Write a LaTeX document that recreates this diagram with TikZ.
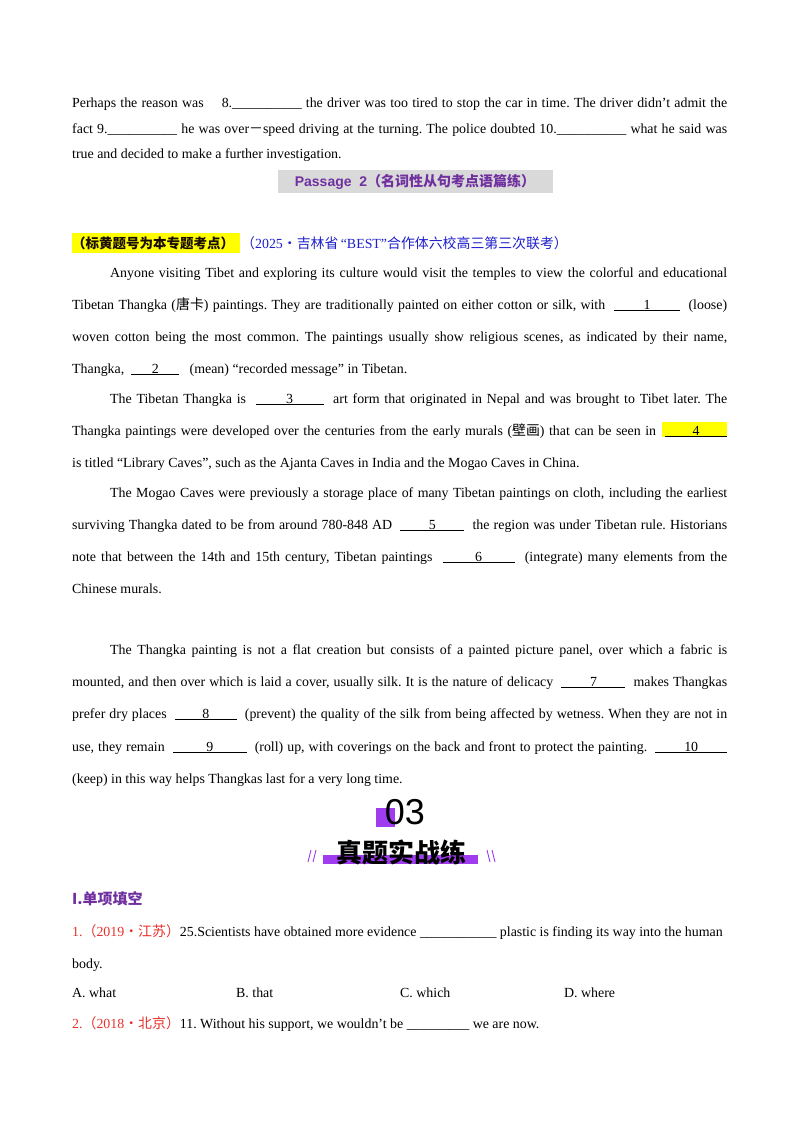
\documentclass[tikz,border=0pt]{standalone}
\usepackage{fontspec}
\setmainfont{Liberation Serif}
\newfontfamily\cjk{Noto Sans CJK SC}
\newfontfamily\hsans{Liberation Sans}
\definecolor{pur}{HTML}{7030A0}
\definecolor{pbar}{HTML}{A03CF0}
\definecolor{hl}{HTML}{FFFF00}
\definecolor{blu}{HTML}{1F1FCC}
\definecolor{redq}{HTML}{E8302A}
\newcommand\blk[2]{\underline{\makebox[#1pt]{#2}}}
\newcommand\jl[4]{\node[txt] (#1) at (#2,#3) {\makebox[\dimexpr727pt-#2pt\relax][s]{#4}};}
\newcommand\lft[4]{\node[txt] (#1) at (#2,#3) {#4};}
\tikzset{txt/.style={anchor=base west,inner sep=0pt,font=\fontsize{13.9}{15}\selectfont}}
\frenchspacing
\begin{document}
\begin{tikzpicture}[x=1pt,y=-1pt]
\useasboundingbox[fill=white] (0,0) rectangle (800,1132);
\jl{a1}{72}{107}{Perhaps the reason was \quad 8.\_\_\_\_\_\_\_\_\_\_ the driver was too tired to stop the car in time. The driver didn't admit the}
\jl{a2}{72}{133}{fact 9.\_\_\_\_\_\_\_\_\_\_ he was over{\cjk －}speed driving at the turning. The police doubted 10.\_\_\_\_\_\_\_\_\_\_ what he said was}
\lft{a3}{72}{158}{true and decided to make a further investigation.}
\fill[gray!30] (278,170) rectangle (553,193);
\node[inner sep=0,text=pur,font=\hsans\bfseries\fontsize{14}{15}\selectfont] (ph) at (415,181.5) {Passage\ \ 2{\cjk\bfseries（名词性从句考点语篇练）}};
\fill[hl] (72,233) rectangle (240,253);
\node[txt,font=\cjk\bfseries\fontsize{13.5}{15}\selectfont,text=black!75!orange!40!black] (yl) at (72,248) {（标黄题号为本专题考点）};
\node[txt,text=blu] (src) at (241,248) {{\cjk（}2025{\cjk ·吉林省}\,“BEST”{\cjk 合作体六校高三第三次联考）}};
\jl{b1}{110}{277}{Anyone visiting Tibet and exploring its culture would visit the temples to view the colorful and educational}
\jl{b2}{72}{309}{Tibetan Thangka ({\cjk 唐卡}) paintings. They are traditionally painted on either cotton or silk, with \ \blk{66}{1} \ (loose)}
\jl{b3}{72}{341}{woven cotton being the most common. The paintings usually show religious scenes, as indicated by their name,}
\lft{b4}{72}{373}{Thangka, \ \blk{48}{2} \ \ (mean) “recorded message" in Tibetan.}
\jl{c1}{110}{403}{The Tibetan Thangka is \ \blk{68}{3} \ art form that originated in Nepal and was brought to Tibet later. The}
\fill[hl] (662,422) rectangle (727,437);
\jl{c2}{72}{435}{Thangka paintings were developed over the centuries from the early murals ({\cjk 壁画}) that can be seen in \ \blk{62}{4}}
\lft{c3}{72}{467}{is titled “Library Caves”, such as the Ajanta Caves in India and the Mogao Caves in China.}
\jl{d1}{110}{497}{The Mogao Caves were previously a storage place of many Tibetan paintings on cloth, including the earliest}
\jl{d2}{72}{529}{surviving Thangka dated to be from around 780-848 AD \ \blk{64}{5} \ the region was under Tibetan rule. Historians}
\jl{d3}{72}{561}{note that between the 14th and 15th century, Tibetan paintings \ \blk{72}{6} \ (integrate) many elements from the}
\lft{d4}{72}{593}{Chinese murals.}
\jl{e1}{110}{654}{The Thangka painting is not a flat creation but consists of a painted picture panel, over which a fabric is}
\jl{e2}{72}{686}{mounted, and then over which is laid a cover, usually silk. It is the nature of delicacy \ \blk{64}{7} \ makes Thangkas}
\jl{e3}{72}{718}{prefer dry places \ \blk{62}{8} \ (prevent) the quality of the silk from being affected by wetness. When they are not in}
\jl{e4}{72}{751}{use, they remain \ \blk{74}{9} \ (roll) up, with coverings on the back and front to protect the painting. \ \blk{72}{10}}
\lft{e6}{72}{783}{(keep) in this way helps Thangkas last for a very long time.}
% 03 emblem
\fill[pbar] (376,808) rectangle (395,827);
\node[inner sep=0,font=\hsans\fontsize{36}{40}\selectfont] (num) at (405,812) {03};
\fill[pbar] (323,855) rectangle (478,864);
\node[inner sep=0,font=\cjk\bfseries\fontsize{26}{30}\selectfont] (ttl) at (401,852) {真题实战练};
\foreach \xx in {308,313}{\draw[pbar,line width=0.9pt] (\xx,862) -- (\xx+3,850);}
\foreach \xx in {487,492}{\draw[pbar,line width=0.9pt] (\xx,850) -- (\xx+3,862);}
\node[txt,font=\cjk\bfseries\fontsize{15}{17}\selectfont,text=pur] (sec) at (72,904) {I.单项填空};
\lft{q1}{72}{936}{\textcolor{redq}{1.{\cjk（}2019{\cjk ·江苏）}}25.Scientists have obtained more evidence \_\_\_\_\_\_\_\_\_\_\_ plastic is finding its way into the human}
\lft{q1b}{72}{968}{body.}
\lft{oa}{72}{997}{A. what}
\lft{ob}{236}{997}{B. that}
\lft{oc}{400}{997}{C. which}
\lft{od}{564}{997}{D. where}
\lft{q2}{72}{1028}{\textcolor{redq}{2.{\cjk（}2018{\cjk ·北京）}}11. Without his support, we wouldn’t be \_\_\_\_\_\_\_\_\_ we are now.}
\end{tikzpicture}
\end{document}
